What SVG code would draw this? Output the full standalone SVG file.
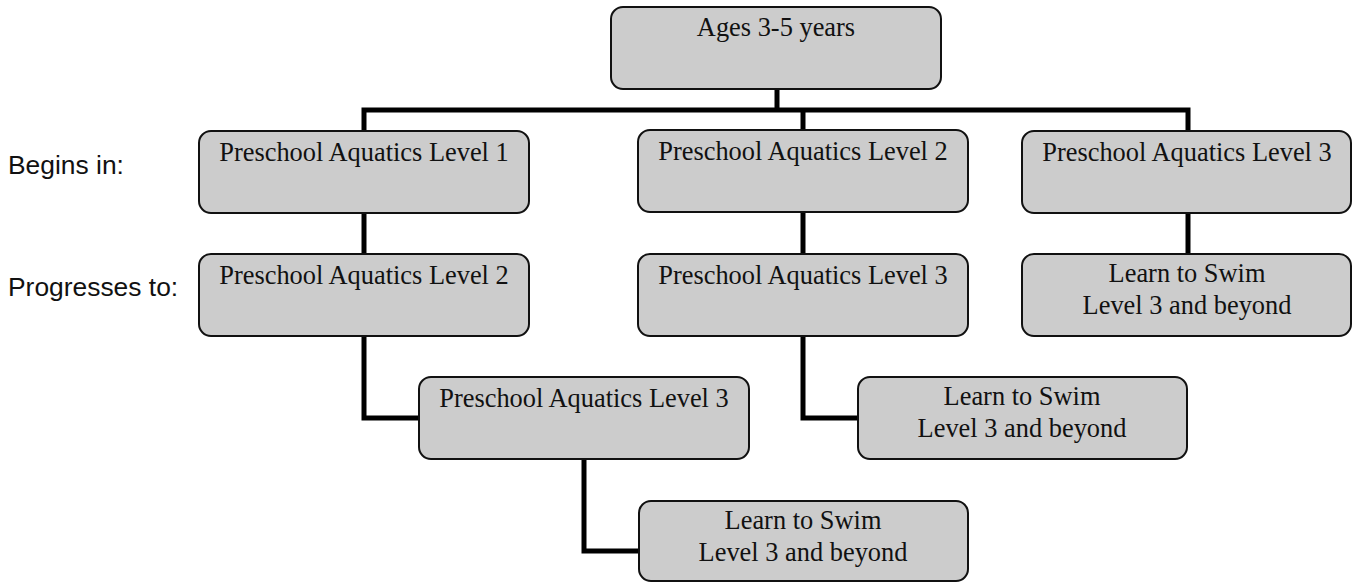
<svg xmlns="http://www.w3.org/2000/svg" width="1352" height="583" viewBox="0 0 1352 583">
<style>
.box{fill:#cccccc;stroke:#111;stroke-width:2}
.t{font-family:"Liberation Serif","Times New Roman",serif;font-size:26.4px;fill:#111;text-anchor:middle}
.lbl{font-family:"Liberation Sans",Arial,sans-serif;font-size:26.4px;fill:#111}
.c{fill:none;stroke:#000;stroke-width:5;stroke-linejoin:miter;stroke-linecap:butt}
</style>
<rect width="1352" height="583" fill="#fff"/>
<g id="connectors">
<path class="c" d="M777 89V110"/>
<path class="c" d="M364 131V110H1188V131"/>
<path class="c" d="M803 110V130"/>
<path class="c" d="M364 213V254"/>
<path class="c" d="M803 212V254"/>
<path class="c" d="M1188 213V254"/>
<path class="c" d="M364 336V418H419"/>
<path class="c" d="M803 336V418H858"/>
<path class="c" d="M584 459V551H639"/>
</g>
<g id="labels">
<text class="lbl" x="8" y="174">Begins in:</text>
<text class="lbl" x="8" y="296">Progresses to:</text>
</g>
<g id="n-ages"><rect class="box" x="611" y="7" width="330" height="82" rx="12"/><text class="t" x="776" y="36">Ages 3-5 years</text></g>
<g id="n-pa1"><rect class="box" x="199" y="131" width="330" height="82" rx="12"/><text class="t" x="364" y="161">Preschool Aquatics Level 1</text></g>
<g id="n-pa2-top"><rect class="box" x="638" y="130" width="330" height="82" rx="12"/><text class="t" x="803" y="160">Preschool Aquatics Level 2</text></g>
<g id="n-pa3-top"><rect class="box" x="1022" y="131" width="329" height="82" rx="12"/><text class="t" x="1187" y="161">Preschool Aquatics Level 3</text></g>
<g id="n-pa2-left"><rect class="box" x="199" y="254" width="330" height="82" rx="12"/><text class="t" x="364" y="284">Preschool Aquatics Level 2</text></g>
<g id="n-pa3-mid"><rect class="box" x="638" y="254" width="330" height="82" rx="12"/><text class="t" x="803" y="284">Preschool Aquatics Level 3</text></g>
<g id="n-lts-right"><rect class="box" x="1022" y="254" width="329" height="82" rx="12"/><text class="t" x="1187" y="282">Learn to Swim</text><text class="t" x="1187" y="314">Level 3 and beyond</text></g>
<g id="n-pa3-left"><rect class="box" x="419" y="377" width="330" height="82" rx="12"/><text class="t" x="584" y="407">Preschool Aquatics Level 3</text></g>
<g id="n-lts-mid"><rect class="box" x="858" y="377" width="329" height="82" rx="12"/><text class="t" x="1022" y="405">Learn to Swim</text><text class="t" x="1022" y="437">Level 3 and beyond</text></g>
<g id="n-lts-bottom"><rect class="box" x="639" y="501" width="329" height="80" rx="12"/><text class="t" x="803" y="529">Learn to Swim</text><text class="t" x="803" y="561">Level 3 and beyond</text></g>
</svg>
